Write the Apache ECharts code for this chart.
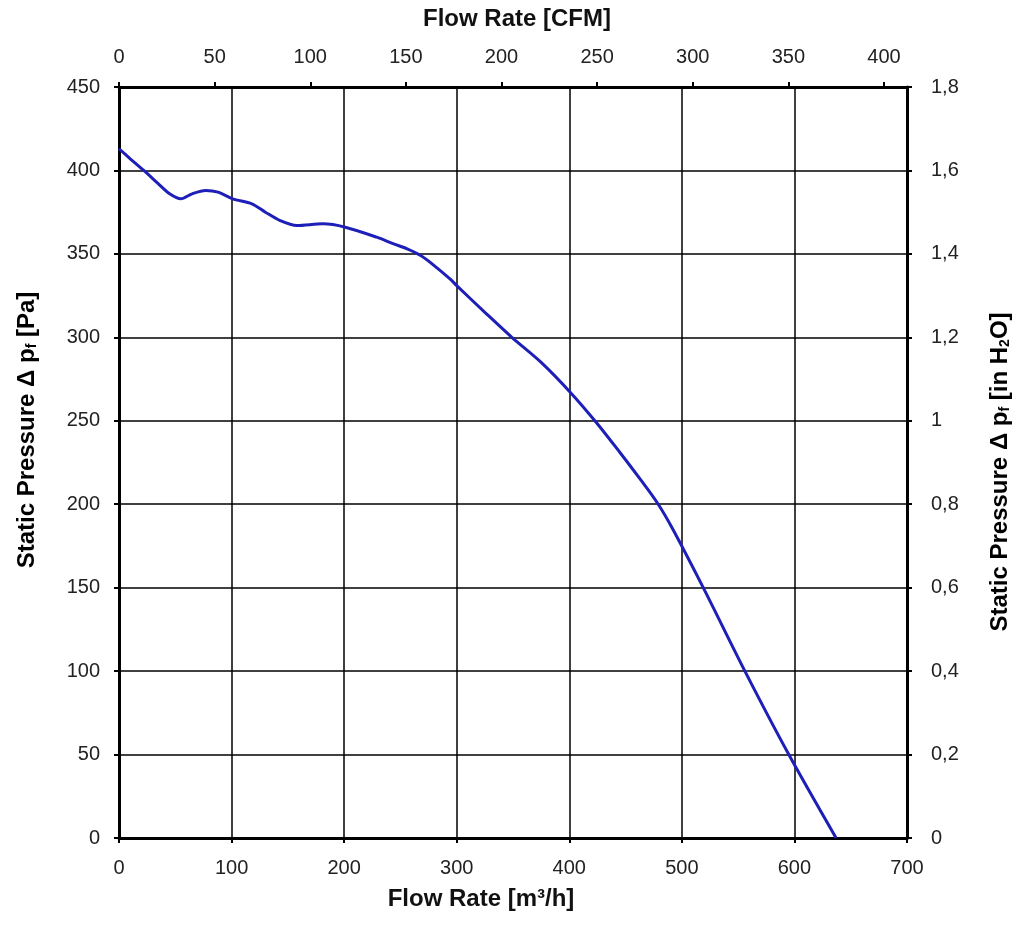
<!DOCTYPE html>
<html>
<head>
<meta charset="utf-8">
<script src="https://cdn.jsdelivr.net/npm/echarts@6/dist/echarts.min.js"></script>
<style>
html,body{margin:0;padding:0;background:#fff;}
#chart{width:1024px;height:933px;}
</style>
</head>
<body>
<div id="chart"></div>
<script>
// Flow rate [m³/h]
var flowRate = [0, 10, 22, 35, 45, 55, 65, 77, 88, 101, 118, 130, 143, 158, 181, 201, 229, 244, 256, 268, 280, 294, 300, 325, 349, 375, 401, 424, 445, 463, 479, 492, 519, 556, 595, 637];
// Static pressure [Pa]
var pressure = [413, 407, 400, 392, 386, 383, 386, 388, 387, 383, 380, 375, 370, 367, 368, 366, 360, 356, 353, 349, 343, 335, 331, 315, 300, 285, 267, 249, 231, 215, 200, 185, 150, 100, 50, 0];

var bottomTicks = {min: 0, max: 700, interval: 100};
var topTicks = {min: 0, max: 412, interval: 50};   // 700 m³/h ≈ 412 CFM
var leftTicks = {min: 0, max: 450, interval: 50};
var rightTicks = {min: 0, max: 1.8, interval: 0.2};

var titleTop = 'Flow Rate [CFM]';
var titleBottom = 'Flow Rate [m³/h]';

var data = flowRate.map(function (v, i) { return [v, pressure[i]]; });

var chart = echarts.init(document.getElementById('chart'));
var font = 'Liberation Sans, Arial, sans-serif';
var lblStyle = {color: '#222', fontSize: 20, fontFamily: font};
var axisLineStyle = {show: true, onZero: false, lineStyle: {color: '#000', width: 3}};
var tickStyle = {show: true, length: 5, lineStyle: {color: '#000', width: 2}};
var titleRich = {
  b: {fontSize: 24, fontWeight: 'bold', fontFamily: font, color: '#111'},
  s: {fontSize: 14, fontWeight: 'bold', fontFamily: font, color: '#111', padding: [10, 0, 0, 0]}
};

chart.setOption({
  animation: false,
  backgroundColor: '#fff',
  grid: {left: 119, right: 117, top: 87, bottom: 95, containLabel: false},
  xAxis: [{
    type: 'value', position: 'bottom',
    min: bottomTicks.min, max: bottomTicks.max, interval: bottomTicks.interval,
    axisLine: axisLineStyle, axisTick: tickStyle,
    axisLabel: Object.assign({margin: 20}, lblStyle),
    splitLine: {show: true, lineStyle: {color: '#000', width: 1.5}}
  }, {
    type: 'value', position: 'top',
    min: topTicks.min, max: topTicks.max, interval: topTicks.interval,
    axisLine: axisLineStyle, axisTick: tickStyle,
    axisLabel: Object.assign({margin: 20, showMaxLabel: false}, lblStyle),
    splitLine: {show: false}
  }],
  yAxis: [{
    type: 'value', position: 'left',
    min: leftTicks.min, max: leftTicks.max, interval: leftTicks.interval,
    axisLine: axisLineStyle, axisTick: tickStyle,
    axisLabel: Object.assign({margin: 19}, lblStyle),
    splitLine: {show: true, lineStyle: {color: '#000', width: 1.5}}
  }, {
    type: 'value', position: 'right',
    min: rightTicks.min, max: rightTicks.max, interval: rightTicks.interval,
    axisLine: axisLineStyle, axisTick: tickStyle,
    axisLabel: Object.assign({margin: 24, formatter: function (v) {
      return String(Math.round(v * 10) / 10).replace('.', ',');
    }}, lblStyle),
    splitLine: {show: false}
  }],
  series: [{
    type: 'line', xAxisIndex: 0, yAxisIndex: 0,
    data: data, smooth: 0.3, showSymbol: false,
    lineStyle: {color: '#1e1eb8', width: 3}
  }],
  graphic: [
    {type: 'text', x: 517, y: 19, style: {text: titleTop, textAlign: 'center', textVerticalAlign: 'middle', font: 'bold 24px ' + font, fill: '#111'}},
    {type: 'text', x: 481, y: 899, style: {text: titleBottom, textAlign: 'center', textVerticalAlign: 'middle', font: 'bold 24px ' + font, fill: '#111'}},
    {type: 'text', x: 27, y: 430, rotation: Math.PI / 2, style: {
      text: '{b|Static Pressure Δ p}{s|f}{b| [Pa]}', rich: titleRich,
      textAlign: 'center', textVerticalAlign: 'middle'}},
    {type: 'text', x: 1000, y: 472, rotation: Math.PI / 2, style: {
      text: '{b|Static Pressure Δ p}{s|f}{b| [in H}{s|2}{b|O]}', rich: titleRich,
      textAlign: 'center', textVerticalAlign: 'middle'}}
  ]
});
</script>
</body>
</html>
